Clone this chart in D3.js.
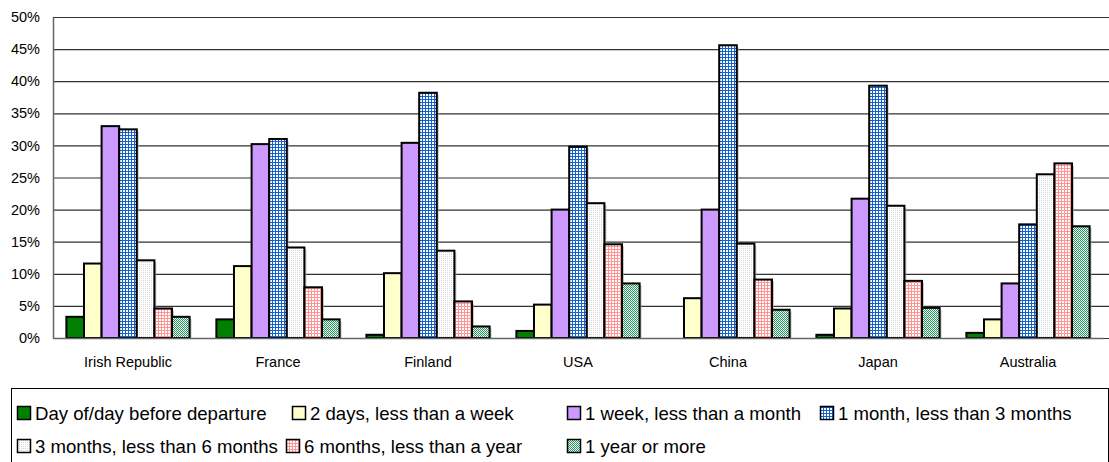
<!DOCTYPE html>
<html>
<head>
<meta charset="utf-8">
<script src="https://cdn.jsdelivr.net/npm/d3@7"></script>
<style>
  body { margin: 0; background: #fff; }
  svg { display: block; font-family: "Liberation Sans", Arial, sans-serif; }
</style>
</head>
<body>
<div id="chart"></div>
<script>
// data (percent of respondents)
const countries = ["Irish Republic", "France", "Finland", "USA", "China", "Japan", "Australia"];
const seriesNames = [
  "Day of/day before departure",
  "2 days, less than a week",
  "1 week, less than a month",
  "1 month, less than 3 months",
  "3 months, less than 6 months",
  "6 months, less than a year",
  "1 year or more"
];
const dayOf      = [3.3, 2.9, 0.5, 1.1, 0.0, 0.5, 0.8];
const twoDays    = [11.6, 11.2, 10.1, 5.2, 6.2, 4.6, 2.9];
const oneWeek    = [33.0, 30.2, 30.4, 20.0, 20.0, 21.7, 8.5];
const oneMonth   = [32.5, 31.0, 38.2, 29.8, 45.6, 39.3, 17.7];
const threeMonth = [12.1, 14.1, 13.6, 21.0, 14.7, 20.6, 25.5];
const sixMonth   = [4.6, 7.9, 5.7, 14.6, 9.1, 8.9, 27.2];
const oneYear    = [3.3, 2.9, 1.8, 8.5, 4.4, 4.7, 17.4];
const yTicks = [0, 5, 10, 15, 20, 25, 30, 35, 40, 45, 50];

const seriesValues = [dayOf, twoDays, oneWeek, oneMonth, threeMonth, sixMonth, oneYear];

const W = 1109, H = 462;
const margin = { top: 17, right: 6, bottom: 124, left: 53 };

const svg = d3.select("#chart").append("svg").attr("width", W).attr("height", H);
const defs = svg.append("defs");

// fill patterns like the old office chart
function pattern(id, size, bg, dots) {
  const p = defs.append("pattern").attr("id", id)
    .attr("width", size).attr("height", size).attr("patternUnits", "userSpaceOnUse");
  p.append("rect").attr("width", size).attr("height", size).attr("fill", bg);
  dots.forEach(d => p.append("rect").attr("x", d[0]).attr("y", d[1])
    .attr("width", d[2]).attr("height", d[3]).attr("fill", d[4]));
}
pattern("pBlue", 3, "#1463cc", [[1, 1, 2, 2, "#ffffff"]]);
pattern("pDots", 2, "#ffffff", [[0, 0, 1, 1, "#d6d6d6"]]);
pattern("pPink", 3, "#ff9494", [[1, 1, 2, 2, "#ffffff"]]);
pattern("pTeal", 2, "#2f9463", [[0, 0, 1, 1, "#ffffff"], [1, 1, 1, 1, "#d9efe3"]]);

const fills = ["#008000", "#ffffcc", "#cc99ff", "url(#pBlue)", "url(#pDots)", "url(#pPink)", "url(#pTeal)"];

const x = d3.scaleBand().domain(countries).range([margin.left, W - margin.right]);
const xs = d3.scaleBand().domain(d3.range(seriesNames.length))
  .range([0, x.bandwidth()]).paddingInner(0).paddingOuter(0.76);
const y = d3.scaleLinear().domain([0, 50]).range([H - margin.bottom, margin.top]);

// gridlines
svg.append("g")
  .attr("transform", `translate(${margin.left},0)`)
  .call(d3.axisLeft(y).tickValues(yTicks).tickSize(-(W - margin.left)).tickFormat(""))
  .call(g => g.select(".domain").remove())
  .call(g => g.selectAll("line").attr("stroke", "#333").attr("stroke-width", 1.2));

// bars
const groups = svg.append("g").selectAll("g")
  .data(countries)
  .join("g")
  .attr("transform", d => `translate(${x(d)},0)`);

groups.selectAll("rect.shadow")
  .data((c, i) => seriesValues.map((s, k) => ({ k, v: s[i] })).filter(d => d.v > 0))
  .join("rect")
  .attr("class", "shadow")
  .attr("x", d => xs(d.k) + 2)
  .attr("y", d => y(d.v) + 2)
  .attr("width", xs.bandwidth())
  .attr("height", d => y(0) - y(d.v) - 2)
  .attr("fill", "#aaa")
  .attr("opacity", 0.6);

groups.selectAll("rect.bar")
  .data((c, i) => seriesValues.map((s, k) => ({ k, v: s[i] })).filter(d => d.v > 0))
  .join("rect")
  .attr("class", "bar")
  .attr("x", d => xs(d.k))
  .attr("y", d => y(d.v))
  .attr("width", xs.bandwidth())
  .attr("height", d => y(0) - y(d.v))
  .attr("fill", d => fills[d.k])
  .attr("stroke", "#000")
  .attr("stroke-width", 2);

// axes
svg.append("g")
  .attr("transform", `translate(${margin.left},0)`)
  .call(d3.axisLeft(y).tickValues(yTicks).tickSize(0).tickPadding(13).tickFormat(d => d + "%"))
  .call(g => g.select(".domain").attr("stroke", "#666").attr("stroke-width", 1.5))
  .call(g => g.selectAll("text").attr("font-size", 14.5).attr("fill", "#000")
    .attr("font-family", "Liberation Sans, Arial, sans-serif"));

svg.append("g")
  .attr("transform", `translate(0,${y(0)})`)
  .call(d3.axisBottom(x).tickSize(0).tickPadding(19))
  .call(g => g.select(".domain").attr("stroke", "#666").attr("stroke-width", 1.5))
  .call(g => g.selectAll("text").attr("font-size", 14.5).attr("fill", "#000")
    .attr("font-family", "Liberation Sans, Arial, sans-serif"));

// legend
const legendBox = { x: 11, y: 388, w: 1097, h: 90 };
svg.append("rect")
  .attr("x", legendBox.x + 0.5).attr("y", legendBox.y + 0.5)
  .attr("width", legendBox.w).attr("height", legendBox.h)
  .attr("fill", "none").attr("stroke", "#000");

const legendX = [17, 292, 567, 820, 17, 286, 567];
const legendRow = [0, 0, 0, 0, 1, 1, 1];
const legend = svg.append("g").selectAll("g")
  .data(seriesNames)
  .join("g")
  .attr("transform", (d, i) => `translate(${legendX[i]},${413 + legendRow[i] * 33})`);

legend.append("rect")
  .attr("x", 0.5).attr("y", -6.5).attr("width", 13).attr("height", 13)
  .attr("fill", (d, i) => fills[i]).attr("stroke", "#000").attr("stroke-width", 1.5);

legend.append("text")
  .attr("x", 18).attr("y", 7)
  .attr("font-size", 18.6)
  .text(d => d);
</script>
</body>
</html>
